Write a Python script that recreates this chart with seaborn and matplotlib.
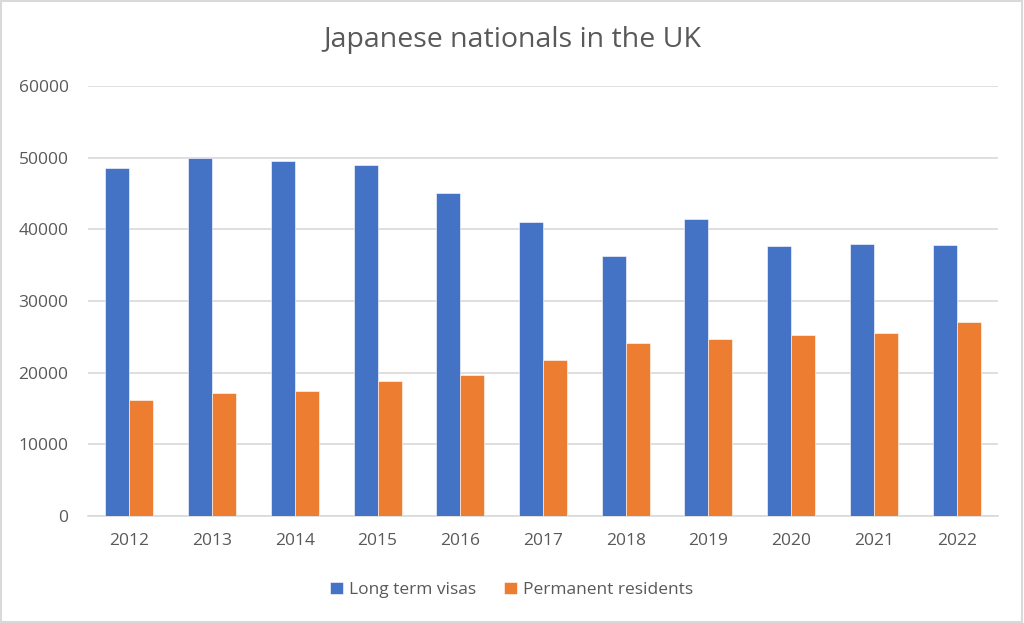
import numpy as np
import pandas as pd
import matplotlib
matplotlib.use("Agg")
import matplotlib.pyplot as plt
from matplotlib.patches import Rectangle
import seaborn as sns

years = ['2012', '2013', '2014', '2015', '2016', '2017', '2018', '2019', '2020', '2021', '2022']
long_term_visas = [48600, 49900, 49600, 49000, 45100, 41000, 36300, 41400, 37700, 38000, 37800]
permanent_residents = [16200, 17100, 17500, 18900, 19700, 21700, 24200, 24700, 25200, 25500, 27100]
series_names = ['Long term visas', 'Permanent residents']
colors = ['#4472C4', '#ED7D31']

df = pd.DataFrame({
    'year': years * 2,
    'count': long_term_visas + permanent_residents,
    'series': [series_names[0]] * len(years) + [series_names[1]] * len(years),
})

sns.set_style('white')
plt.rcParams['font.family'] = ['Open Sans', 'DejaVu Sans']
text_color = '#595959'
grid_color = '#d9d9d9'

fig = plt.figure(figsize=(10.24, 6.23), dpi=100)
ax = fig.add_axes([88 / 1024, 107 / 623, 910 / 1024, 430 / 623])

sns.barplot(data=df, x='year', y='count', hue='series', order=years,
            hue_order=series_names, palette=colors, width=0.58, gap=0,
            edgecolor='white', linewidth=0.4, saturation=1, ax=ax, zorder=3)

ax.set_ylim(0, 60000)
ax.set_xlim(-0.5, len(years) - 0.5)
ax.set_yticks(np.arange(0, 60001, 10000))
ax.yaxis.grid(True, color=grid_color, linewidth=1.2, zorder=0)
ax.set_axisbelow(True)
ax.set_xlabel('')
ax.set_ylabel('')

for side in ['top', 'right', 'left']:
    ax.spines[side].set_visible(False)
ax.spines['bottom'].set_color(grid_color)
ax.spines['bottom'].set_linewidth(1.2)

ax.set_xticks(np.arange(-0.5, len(years), 1), minor=True)
ax.tick_params(axis='x', which='minor', length=6, color=grid_color, width=1.2)
ax.tick_params(axis='x', which='major', length=0, pad=12, labelsize=12.5, labelcolor=text_color)
ax.tick_params(axis='y', length=0, pad=14, labelsize=12.5, labelcolor=text_color)

# title is centred on the whole chart, not on the plot area
fig.text(0.5, 1 - 40 / 623, 'Japanese nationals in the UK', fontsize=20.5,
         color=text_color, ha='center', va='center')

ax.legend(loc='center', bbox_to_anchor=(0.5, 33 / 623), bbox_transform=fig.transFigure,
          ncol=2, frameon=False, fontsize=12.5, labelcolor=text_color,
          handlelength=0.7, handleheight=0.7, handletextpad=0.4, columnspacing=1.6)

# light border round the whole chart
fig.patches.append(Rectangle((0.001, 0.002), 0.997, 0.996, transform=fig.transFigure,
                             fill=False, edgecolor=grid_color, linewidth=1.5))

fig.savefig('out.png', dpi=100)
